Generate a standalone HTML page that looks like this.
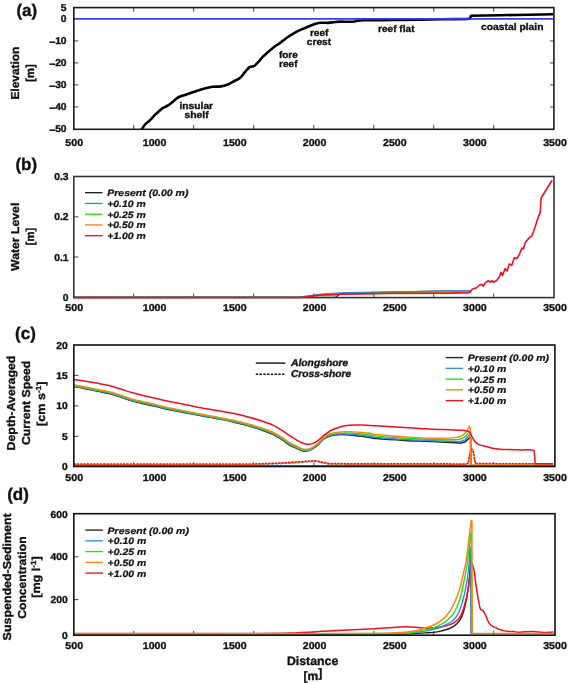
<!DOCTYPE html>
<html><head><meta charset="utf-8"><style>
html,body{margin:0;padding:0;background:#fff;}
body{width:568px;height:683px;overflow:hidden;}
svg{display:block;will-change:transform;text-rendering:geometricPrecision;}
text{font-family:"Liberation Sans", sans-serif;fill:#111;}
</style></head><body>
<svg width="568" height="683" viewBox="0 0 568 683">
<rect width="568" height="683" fill="#fff"/>
<line x1="133.6" y1="129.3" x2="133.6" y2="125.10000000000001" stroke="#555" stroke-width="1.1"/>
<line x1="133.6" y1="7.6" x2="133.6" y2="11.8" stroke="#555" stroke-width="1.1"/>
<line x1="193.6" y1="129.3" x2="193.6" y2="125.10000000000001" stroke="#555" stroke-width="1.1"/>
<line x1="193.6" y1="7.6" x2="193.6" y2="11.8" stroke="#555" stroke-width="1.1"/>
<line x1="253.6" y1="129.3" x2="253.6" y2="125.10000000000001" stroke="#555" stroke-width="1.1"/>
<line x1="253.6" y1="7.6" x2="253.6" y2="11.8" stroke="#555" stroke-width="1.1"/>
<line x1="313.8" y1="129.3" x2="313.8" y2="125.10000000000001" stroke="#555" stroke-width="1.1"/>
<line x1="313.8" y1="7.6" x2="313.8" y2="11.8" stroke="#555" stroke-width="1.1"/>
<line x1="373.8" y1="129.3" x2="373.8" y2="125.10000000000001" stroke="#555" stroke-width="1.1"/>
<line x1="373.8" y1="7.6" x2="373.8" y2="11.8" stroke="#555" stroke-width="1.1"/>
<line x1="433.7" y1="129.3" x2="433.7" y2="125.10000000000001" stroke="#555" stroke-width="1.1"/>
<line x1="433.7" y1="7.6" x2="433.7" y2="11.8" stroke="#555" stroke-width="1.1"/>
<line x1="493.6" y1="129.3" x2="493.6" y2="125.10000000000001" stroke="#555" stroke-width="1.1"/>
<line x1="493.6" y1="7.6" x2="493.6" y2="11.8" stroke="#555" stroke-width="1.1"/>
<line x1="73.8" y1="40.9" x2="78.39999999999999" y2="40.9" stroke="#555" stroke-width="1.1"/>
<line x1="554.2" y1="40.9" x2="550.0" y2="40.9" stroke="#555" stroke-width="1.1"/>
<line x1="73.8" y1="62.9" x2="78.39999999999999" y2="62.9" stroke="#555" stroke-width="1.1"/>
<line x1="554.2" y1="62.9" x2="550.0" y2="62.9" stroke="#555" stroke-width="1.1"/>
<line x1="73.8" y1="84.9" x2="78.39999999999999" y2="84.9" stroke="#555" stroke-width="1.1"/>
<line x1="554.2" y1="84.9" x2="550.0" y2="84.9" stroke="#555" stroke-width="1.1"/>
<line x1="73.8" y1="106.9" x2="78.39999999999999" y2="106.9" stroke="#555" stroke-width="1.1"/>
<line x1="554.2" y1="106.9" x2="550.0" y2="106.9" stroke="#555" stroke-width="1.1"/>
<text transform="translate(66.6,10.5) scale(1.03,1)" font-size="10.0" font-weight="bold" font-style="normal" text-anchor="end" stroke="#111" stroke-width="0.35" >5</text>
<text transform="translate(66.6,22.4) scale(1.03,1)" font-size="10.0" font-weight="bold" font-style="normal" text-anchor="end" stroke="#111" stroke-width="0.35" >0</text>
<text transform="translate(66.6,44.4) scale(1.03,1)" font-size="10.0" font-weight="bold" font-style="normal" text-anchor="end" stroke="#111" stroke-width="0.35" ><tspan dy="0.9" stroke-width="0.6">–</tspan><tspan dy="-0.9">10</tspan></text>
<text transform="translate(66.6,66.4) scale(1.03,1)" font-size="10.0" font-weight="bold" font-style="normal" text-anchor="end" stroke="#111" stroke-width="0.35" ><tspan dy="0.9" stroke-width="0.6">–</tspan><tspan dy="-0.9">20</tspan></text>
<text transform="translate(66.6,88.4) scale(1.03,1)" font-size="10.0" font-weight="bold" font-style="normal" text-anchor="end" stroke="#111" stroke-width="0.35" ><tspan dy="0.9" stroke-width="0.6">–</tspan><tspan dy="-0.9">30</tspan></text>
<text transform="translate(66.6,110.4) scale(1.03,1)" font-size="10.0" font-weight="bold" font-style="normal" text-anchor="end" stroke="#111" stroke-width="0.35" ><tspan dy="0.9" stroke-width="0.6">–</tspan><tspan dy="-0.9">40</tspan></text>
<text transform="translate(66.6,132.4) scale(1.03,1)" font-size="10.0" font-weight="bold" font-style="normal" text-anchor="end" stroke="#111" stroke-width="0.35" ><tspan dy="0.9" stroke-width="0.6">–</tspan><tspan dy="-0.9">50</tspan></text>
<text transform="translate(74.2,146.2) scale(1.06,1)" font-size="10.0" font-weight="bold" font-style="normal" text-anchor="middle" stroke="#111" stroke-width="0.35" >500</text>
<text transform="translate(154.6,146.2) scale(1.06,1)" font-size="10.0" font-weight="bold" font-style="normal" text-anchor="middle" stroke="#111" stroke-width="0.35" >1000</text>
<text transform="translate(234.8,146.2) scale(1.06,1)" font-size="10.0" font-weight="bold" font-style="normal" text-anchor="middle" stroke="#111" stroke-width="0.35" >1500</text>
<text transform="translate(314.6,146.2) scale(1.06,1)" font-size="10.0" font-weight="bold" font-style="normal" text-anchor="middle" stroke="#111" stroke-width="0.35" >2000</text>
<text transform="translate(394.8,146.2) scale(1.06,1)" font-size="10.0" font-weight="bold" font-style="normal" text-anchor="middle" stroke="#111" stroke-width="0.35" >2500</text>
<text transform="translate(474.9,146.2) scale(1.06,1)" font-size="10.0" font-weight="bold" font-style="normal" text-anchor="middle" stroke="#111" stroke-width="0.35" >3000</text>
<text transform="translate(555.0,146.2) scale(1.06,1)" font-size="10.0" font-weight="bold" font-style="normal" text-anchor="middle" stroke="#111" stroke-width="0.35" >3500</text>
<path d="M141.60,129.60 C142.73,127.90 143.71,126.06 145.00,124.50 C145.71,123.63 146.74,123.04 147.60,122.30 C148.78,121.28 150.01,120.31 151.10,119.20 C152.34,117.94 153.35,116.45 154.60,115.20 C155.98,113.82 157.53,112.59 159.00,111.30 C160.19,110.26 161.29,109.07 162.60,108.20 C163.96,107.30 165.57,106.80 167.00,106.00 C168.20,105.33 169.41,104.63 170.50,103.80 C171.74,102.86 172.81,101.70 174.00,100.70 C175.31,99.60 176.51,98.29 178.00,97.50 C180.14,96.36 182.58,95.71 184.90,94.90 C187.71,93.91 190.57,93.05 193.40,92.10 C196.21,91.15 198.95,89.99 201.80,89.20 C205.28,88.23 208.83,87.32 212.40,86.80 C215.20,86.39 218.11,86.80 220.90,86.40 C223.04,86.10 225.18,85.48 227.20,84.70 C229.38,83.85 231.42,82.60 233.50,81.50 C235.65,80.37 238.07,79.54 239.90,78.00 C242.00,76.24 243.43,73.67 245.30,71.60 C246.69,70.07 248.01,68.28 249.70,67.20 C250.94,66.41 252.83,66.76 254.10,66.00 C255.77,65.00 257.12,63.35 258.50,61.90 C260.06,60.25 261.32,58.33 262.90,56.70 C264.56,54.99 266.40,53.46 268.20,51.90 C269.93,50.40 271.67,48.88 273.50,47.50 C275.77,45.78 278.20,44.28 280.50,42.60 C282.87,40.88 285.09,38.96 287.50,37.30 C289.79,35.72 292.17,34.26 294.60,32.90 C296.87,31.63 299.23,30.49 301.60,29.40 C303.93,28.32 306.32,27.36 308.70,26.40 C311.02,25.46 313.31,24.42 315.70,23.70 C317.41,23.18 319.22,22.82 321.00,22.70 C323.32,22.55 325.68,23.02 328.00,22.90 C330.34,22.78 332.66,22.25 335.00,22.00 C336.66,21.82 338.33,21.62 340.00,21.60 C344.00,21.55 348.01,21.88 352.00,21.80 C353.01,21.78 354.01,21.50 355.00,21.30 C356.01,21.10 356.98,20.72 358.00,20.60 C359.92,20.38 361.86,20.33 363.80,20.30 C370.13,20.20 376.47,20.27 382.80,20.20 C388.53,20.14 394.27,19.99 400.00,19.90 C414.00,19.69 428.00,19.51 442.00,19.30 C450.53,19.17 459.07,19.03 467.60,18.90 C468.40,18.80 469.20,18.70 470.00,18.60 C470.33,17.63 470.67,16.67 471.00,15.70 C480.67,15.53 490.33,15.37 500.00,15.20 C510.00,15.05 520.00,14.90 530.00,14.75 C537.73,14.57 545.47,14.38 553.20,14.20" fill="none" stroke="#000" stroke-width="2.6" stroke-linejoin="round" />
<line x1="74" y1="18.8" x2="553.5" y2="18.8" stroke="#3a3af0" stroke-width="1.8"/>
<text x="179.5" y="109.0" font-size="9.6" font-weight="bold" font-style="normal" text-anchor="start" textLength="33.6" lengthAdjust="spacingAndGlyphs" stroke="#111" stroke-width="0.35" >insular</text>
<text x="184.4" y="118.0" font-size="9.6" font-weight="bold" font-style="normal" text-anchor="start" textLength="24.3" lengthAdjust="spacingAndGlyphs" stroke="#111" stroke-width="0.35" >shelf</text>
<text x="279.0" y="58.0" font-size="9.6" font-weight="bold" font-style="normal" text-anchor="start" textLength="18.7" lengthAdjust="spacingAndGlyphs" stroke="#111" stroke-width="0.35" >fore</text>
<text x="279.0" y="67.4" font-size="9.6" font-weight="bold" font-style="normal" text-anchor="start" textLength="18.5" lengthAdjust="spacingAndGlyphs" stroke="#111" stroke-width="0.35" >reef</text>
<text x="309.9" y="36.0" font-size="9.6" font-weight="bold" font-style="normal" text-anchor="start" textLength="18.6" lengthAdjust="spacingAndGlyphs" stroke="#111" stroke-width="0.35" >reef</text>
<text x="306.8" y="45.3" font-size="9.6" font-weight="bold" font-style="normal" text-anchor="start" textLength="24.4" lengthAdjust="spacingAndGlyphs" stroke="#111" stroke-width="0.35" >crest</text>
<text x="378.0" y="32.4" font-size="9.6" font-weight="bold" font-style="normal" text-anchor="start" textLength="36.5" lengthAdjust="spacingAndGlyphs" stroke="#111" stroke-width="0.35" >reef flat</text>
<text x="481.0" y="30.4" font-size="9.6" font-weight="bold" font-style="normal" text-anchor="start" textLength="62.5" lengthAdjust="spacingAndGlyphs" stroke="#111" stroke-width="0.35" >coastal plain</text>
<rect x="73.8" y="7.6" width="480.09999999999997" height="121.70000000000002" fill="none" stroke="#1a1a1a" stroke-width="1.6"/>
<line x1="133.6" y1="297.6" x2="133.6" y2="293.40000000000003" stroke="#555" stroke-width="1.1"/>
<line x1="193.6" y1="297.6" x2="193.6" y2="293.40000000000003" stroke="#555" stroke-width="1.1"/>
<line x1="253.6" y1="297.6" x2="253.6" y2="293.40000000000003" stroke="#555" stroke-width="1.1"/>
<line x1="313.8" y1="297.6" x2="313.8" y2="293.40000000000003" stroke="#555" stroke-width="1.1"/>
<line x1="373.8" y1="297.6" x2="373.8" y2="293.40000000000003" stroke="#555" stroke-width="1.1"/>
<line x1="433.7" y1="297.6" x2="433.7" y2="293.40000000000003" stroke="#555" stroke-width="1.1"/>
<line x1="493.6" y1="297.6" x2="493.6" y2="293.40000000000003" stroke="#555" stroke-width="1.1"/>
<line x1="73.8" y1="216.8" x2="78.39999999999999" y2="216.8" stroke="#555" stroke-width="1.1"/>
<line x1="73.8" y1="257.0" x2="78.39999999999999" y2="257.0" stroke="#555" stroke-width="1.1"/>
<text transform="translate(68.5,180.3) scale(1.03,1)" font-size="10.0" font-weight="bold" font-style="normal" text-anchor="end" stroke="#111" stroke-width="0.35" >0.3</text>
<text transform="translate(68.5,220.3) scale(1.03,1)" font-size="10.0" font-weight="bold" font-style="normal" text-anchor="end" stroke="#111" stroke-width="0.35" >0.2</text>
<text transform="translate(68.5,260.5) scale(1.03,1)" font-size="10.0" font-weight="bold" font-style="normal" text-anchor="end" stroke="#111" stroke-width="0.35" >0.1</text>
<text transform="translate(68.5,300.9) scale(1.03,1)" font-size="10.0" font-weight="bold" font-style="normal" text-anchor="end" stroke="#111" stroke-width="0.35" >0</text>
<text transform="translate(74.2,311.2) scale(1.06,1)" font-size="10.0" font-weight="bold" font-style="normal" text-anchor="middle" stroke="#111" stroke-width="0.35" >500</text>
<text transform="translate(154.6,311.2) scale(1.06,1)" font-size="10.0" font-weight="bold" font-style="normal" text-anchor="middle" stroke="#111" stroke-width="0.35" >1000</text>
<text transform="translate(234.8,311.2) scale(1.06,1)" font-size="10.0" font-weight="bold" font-style="normal" text-anchor="middle" stroke="#111" stroke-width="0.35" >1500</text>
<text transform="translate(314.6,311.2) scale(1.06,1)" font-size="10.0" font-weight="bold" font-style="normal" text-anchor="middle" stroke="#111" stroke-width="0.35" >2000</text>
<text transform="translate(394.8,311.2) scale(1.06,1)" font-size="10.0" font-weight="bold" font-style="normal" text-anchor="middle" stroke="#111" stroke-width="0.35" >2500</text>
<text transform="translate(474.9,311.2) scale(1.06,1)" font-size="10.0" font-weight="bold" font-style="normal" text-anchor="middle" stroke="#111" stroke-width="0.35" >3000</text>
<text transform="translate(555.0,311.2) scale(1.06,1)" font-size="10.0" font-weight="bold" font-style="normal" text-anchor="middle" stroke="#111" stroke-width="0.35" >3500</text>
<polyline points="73.8,297.4 300.0,297.4 335.0,297.4 340.0,294.2 345.0,293.2 380.0,292.3 440.0,291.2 468.0,290.7 470.7,290.5" fill="none" stroke="#222" stroke-width="1.2" stroke-linejoin="round" stroke-linecap="butt" />
<polyline points="73.8,297.2 300.0,297.0 321.0,295.3 345.0,293.9 380.0,293.3 440.0,292.3 468.0,291.8 470.7,291.6" fill="none" stroke="#ff8212" stroke-width="1.3" stroke-linejoin="round" stroke-linecap="butt" />
<polyline points="73.8,297.2 300.0,297.0 321.0,294.6 345.0,293.2 380.0,292.6 440.0,291.6 468.0,291.1 470.7,290.9" fill="none" stroke="#22e010" stroke-width="1.2" stroke-linejoin="round" stroke-linecap="butt" />
<polyline points="73.8,297.2 300.0,297.0 321.0,294.0 345.0,292.6 380.0,292.0 440.0,291.0 468.0,290.5 470.7,290.3" fill="none" stroke="#3586f2" stroke-width="1.2" stroke-linejoin="round" stroke-linecap="butt" />
<rect x="73.8" y="176.5" width="480.2" height="121.10000000000002" fill="none" stroke="#333" stroke-width="1.6"/>
<polyline points="74.5,297.6 300.0,297.5 307.6,296.7 312.6,295.9 325.2,294.8 330.2,295.0 342.8,293.9 345.0,294.1 390.0,293.4 450.4,293.1 468.0,292.6 470.0,292.2 472.5,289.0 476.7,287.8 479.2,285.3 481.7,284.4 483.4,286.1 485.1,282.8 488.4,280.6 490.1,282.3 491.8,280.6 493.4,282.3 496.8,280.2 499.3,276.9 501.0,272.2 502.6,275.6 505.1,268.5 507.1,271.0 509.3,263.9 511.8,265.2 514.3,257.7 516.8,258.5 519.4,254.3 521.9,248.1 523.5,248.8 525.2,242.6 528.6,238.4 531.9,235.9 535.2,226.7 538.6,215.9 540.1,213.2 541.2,197.8 552.2,180.3" fill="none" stroke="#f01020" stroke-width="1.6" stroke-linejoin="round" stroke-linecap="butt" />
<line x1="85.0" y1="192.7" x2="102.5" y2="192.7" stroke="#222" stroke-width="1.35"/>
<text x="107.2" y="196.2" font-size="9.3" font-weight="bold" font-style="italic" text-anchor="start" textLength="81.3" lengthAdjust="spacingAndGlyphs" stroke="#111" stroke-width="0.22" >Present (0.00 m)</text>
<line x1="85.0" y1="203.45" x2="102.5" y2="203.45" stroke="#3586f2" stroke-width="1.35"/>
<text x="107.2" y="206.95" font-size="9.3" font-weight="bold" font-style="italic" text-anchor="start" textLength="38.6" lengthAdjust="spacingAndGlyphs" stroke="#111" stroke-width="0.22" >+0.10 m</text>
<line x1="85.0" y1="214.2" x2="102.5" y2="214.2" stroke="#22e010" stroke-width="1.35"/>
<text x="107.2" y="217.7" font-size="9.3" font-weight="bold" font-style="italic" text-anchor="start" textLength="38.6" lengthAdjust="spacingAndGlyphs" stroke="#111" stroke-width="0.22" >+0.25 m</text>
<line x1="85.0" y1="224.95" x2="102.5" y2="224.95" stroke="#ff8212" stroke-width="1.35"/>
<text x="107.2" y="228.45" font-size="9.3" font-weight="bold" font-style="italic" text-anchor="start" textLength="38.6" lengthAdjust="spacingAndGlyphs" stroke="#111" stroke-width="0.22" >+0.50 m</text>
<line x1="85.0" y1="235.7" x2="102.5" y2="235.7" stroke="#f01020" stroke-width="1.35"/>
<text x="107.2" y="239.2" font-size="9.3" font-weight="bold" font-style="italic" text-anchor="start" textLength="38.6" lengthAdjust="spacingAndGlyphs" stroke="#111" stroke-width="0.22" >+1.00 m</text>
<line x1="133.6" y1="466.5" x2="133.6" y2="462.3" stroke="#555" stroke-width="1.1"/>
<line x1="193.6" y1="466.5" x2="193.6" y2="462.3" stroke="#555" stroke-width="1.1"/>
<line x1="253.6" y1="466.5" x2="253.6" y2="462.3" stroke="#555" stroke-width="1.1"/>
<line x1="313.8" y1="466.5" x2="313.8" y2="462.3" stroke="#555" stroke-width="1.1"/>
<line x1="373.8" y1="466.5" x2="373.8" y2="462.3" stroke="#555" stroke-width="1.1"/>
<line x1="433.7" y1="466.5" x2="433.7" y2="462.3" stroke="#555" stroke-width="1.1"/>
<line x1="493.6" y1="466.5" x2="493.6" y2="462.3" stroke="#555" stroke-width="1.1"/>
<line x1="73.8" y1="375.4" x2="78.39999999999999" y2="375.4" stroke="#555" stroke-width="1.1"/>
<line x1="73.8" y1="405.9" x2="78.39999999999999" y2="405.9" stroke="#555" stroke-width="1.1"/>
<line x1="73.8" y1="436.4" x2="78.39999999999999" y2="436.4" stroke="#555" stroke-width="1.1"/>
<text transform="translate(67.8,348.8) scale(1.03,1)" font-size="10.0" font-weight="bold" font-style="normal" text-anchor="end" stroke="#111" stroke-width="0.35" >20</text>
<text transform="translate(67.8,378.9) scale(1.03,1)" font-size="10.0" font-weight="bold" font-style="normal" text-anchor="end" stroke="#111" stroke-width="0.35" >15</text>
<text transform="translate(67.8,409.4) scale(1.03,1)" font-size="10.0" font-weight="bold" font-style="normal" text-anchor="end" stroke="#111" stroke-width="0.35" >10</text>
<text transform="translate(67.8,439.9) scale(1.03,1)" font-size="10.0" font-weight="bold" font-style="normal" text-anchor="end" stroke="#111" stroke-width="0.35" >5</text>
<text transform="translate(67.8,469.7) scale(1.03,1)" font-size="10.0" font-weight="bold" font-style="normal" text-anchor="end" stroke="#111" stroke-width="0.35" >0</text>
<text transform="translate(74.2,481.0) scale(1.06,1)" font-size="10.0" font-weight="bold" font-style="normal" text-anchor="middle" stroke="#111" stroke-width="0.35" >500</text>
<text transform="translate(154.6,481.0) scale(1.06,1)" font-size="10.0" font-weight="bold" font-style="normal" text-anchor="middle" stroke="#111" stroke-width="0.35" >1000</text>
<text transform="translate(234.8,481.0) scale(1.06,1)" font-size="10.0" font-weight="bold" font-style="normal" text-anchor="middle" stroke="#111" stroke-width="0.35" >1500</text>
<text transform="translate(314.6,481.0) scale(1.06,1)" font-size="10.0" font-weight="bold" font-style="normal" text-anchor="middle" stroke="#111" stroke-width="0.35" >2000</text>
<text transform="translate(394.8,481.0) scale(1.06,1)" font-size="10.0" font-weight="bold" font-style="normal" text-anchor="middle" stroke="#111" stroke-width="0.35" >2500</text>
<text transform="translate(474.9,481.0) scale(1.06,1)" font-size="10.0" font-weight="bold" font-style="normal" text-anchor="middle" stroke="#111" stroke-width="0.35" >3000</text>
<text transform="translate(555.0,481.0) scale(1.06,1)" font-size="10.0" font-weight="bold" font-style="normal" text-anchor="middle" stroke="#111" stroke-width="0.35" >3500</text>
<polyline points="73.5,465.0 250.0,465.0 278.2,464.0 292.3,463.1 306.3,462.2 314.8,461.5 320.4,462.6 328.9,464.3 350.0,464.6 466.0,464.8 468.0,465.0 553.0,465.0" fill="none" stroke="#3586f2" stroke-width="1.1" stroke-linejoin="round" stroke-linecap="butt" stroke-dasharray="2.5,1.8"/>
<polyline points="73.5,464.5 250.0,464.5 278.2,463.5 292.3,462.6 306.3,461.7 314.8,461.0 320.4,462.1 328.9,463.8 350.0,464.1 466.0,464.3 468.0,463.5 470.5,452.0 471.7,450.0 473.0,452.0 475.4,464.0 553.0,464.2" fill="none" stroke="#ff8212" stroke-width="1.2" stroke-linejoin="round" stroke-linecap="butt" />
<polyline points="73.5,464.1 250.0,464.1 278.2,463.1 292.3,462.2 306.3,461.3 314.8,460.6 320.4,461.7 328.9,463.4 350.0,463.7 466.0,463.9 468.0,463.3 470.3,451.0 471.7,448.8 473.3,451.0 475.4,463.6 553.0,463.7" fill="none" stroke="#f01020" stroke-width="1.5" stroke-linejoin="round" stroke-linecap="butt" stroke-dasharray="2.3,1.0"/>
<path d="M73.80,386.50 C77.30,387.15 80.81,387.77 84.30,388.46 C88.41,389.28 92.50,390.19 96.60,391.03 C100.73,391.88 104.92,392.47 109.00,393.51 C113.15,394.56 117.21,395.98 121.30,397.28 C125.41,398.59 129.46,400.13 133.60,401.35 C136.36,402.17 139.19,402.76 142.00,403.40 C146.02,404.32 150.08,405.10 154.10,406.02 C158.81,407.11 163.48,408.41 168.20,409.43 C172.88,410.45 177.60,411.24 182.30,412.14 C186.97,413.04 191.63,413.98 196.30,414.85 C200.99,415.72 205.70,416.52 210.40,417.36 C213.60,417.94 216.81,418.46 220.00,419.10 C224.71,420.05 229.42,421.04 234.10,422.15 C238.82,423.27 243.53,424.47 248.20,425.80 C252.93,427.15 257.66,428.56 262.30,430.17 C266.09,431.49 269.89,432.87 273.50,434.61 C276.46,436.03 279.24,437.86 282.00,439.66 C284.87,441.53 287.48,443.82 290.40,445.60 C292.02,446.58 293.87,447.15 295.60,447.94 C297.51,448.82 299.33,449.96 301.30,450.61 C302.63,451.04 304.12,451.31 305.50,451.18 C307.39,451.00 309.41,450.56 311.10,449.69 C313.64,448.40 316.00,446.55 318.20,444.69 C320.24,442.96 321.65,440.44 323.80,438.90 C325.85,437.44 328.36,436.41 330.80,435.68 C333.06,435.01 335.52,434.85 337.90,434.71 C340.69,434.53 343.50,434.60 346.30,434.71 C349.14,434.83 351.97,435.11 354.80,435.40 C357.61,435.70 360.40,436.10 363.20,436.49 C365.47,436.80 367.74,437.14 370.00,437.50 C372.10,437.84 374.18,438.41 376.30,438.59 C385.68,439.38 395.09,439.90 404.50,440.39 C413.89,440.89 423.30,441.11 432.70,441.56 C440.40,441.92 448.10,442.44 455.80,442.83 C457.53,442.92 459.27,442.94 461.00,443.00 C462.33,442.67 463.67,442.33 465.00,442.00 C466.17,440.93 467.33,439.87 468.50,438.80 C469.20,438.20 469.90,437.60 470.60,437.00 C470.70,446.40 470.80,455.80 470.90,465.20" fill="none" stroke="#222" stroke-width="1.5" stroke-linejoin="round" />
<path d="M73.80,386.10 C77.30,386.75 80.81,387.36 84.30,388.05 C88.41,388.86 92.50,389.77 96.60,390.60 C100.73,391.44 104.92,392.03 109.00,393.05 C113.15,394.10 117.21,395.51 121.30,396.81 C125.41,398.11 129.46,399.65 133.60,400.86 C136.36,401.68 139.19,402.26 142.00,402.90 C146.02,403.82 150.08,404.61 154.10,405.54 C158.81,406.63 163.48,407.94 168.20,408.97 C172.88,410.00 177.60,410.79 182.30,411.71 C186.97,412.61 191.63,413.56 196.30,414.44 C200.99,415.32 205.70,416.12 210.40,416.97 C213.60,417.55 216.81,418.08 220.00,418.73 C224.71,419.67 229.42,420.64 234.10,421.74 C238.82,422.85 243.53,424.04 248.20,425.35 C252.93,426.68 257.66,428.08 262.30,429.68 C266.09,430.99 269.89,432.36 273.50,434.08 C276.46,435.50 279.24,437.31 282.00,439.09 C284.87,440.95 287.49,443.23 290.40,445.00 C292.02,445.98 293.87,446.55 295.60,447.36 C297.51,448.25 299.33,449.40 301.30,450.08 C302.63,450.53 304.12,450.87 305.50,450.76 C307.38,450.61 309.41,450.15 311.10,449.30 C313.64,448.01 316.00,446.17 318.20,444.32 C320.24,442.59 321.66,440.10 323.80,438.55 C325.86,437.06 328.36,435.96 330.80,435.19 C333.06,434.47 335.52,434.27 337.90,434.08 C340.68,433.85 343.50,433.86 346.30,433.94 C349.14,434.01 351.97,434.26 354.80,434.53 C357.61,434.79 360.40,435.16 363.20,435.52 C365.47,435.80 367.74,436.10 370.00,436.45 C372.11,436.78 374.18,437.38 376.30,437.57 C385.68,438.39 395.09,438.97 404.50,439.50 C413.89,440.02 423.30,440.35 432.70,440.72 C440.40,441.02 448.10,441.31 455.80,441.52 C457.53,441.57 459.27,441.51 461.00,441.50 C462.33,441.00 463.67,440.50 465.00,440.00 C466.07,438.70 467.13,437.40 468.20,436.10 C468.97,435.57 469.73,435.03 470.50,434.50 C470.60,444.73 470.70,454.97 470.80,465.20" fill="none" stroke="#3586f2" stroke-width="1.4" stroke-linejoin="round" />
<path d="M73.80,385.54 C77.30,386.18 80.81,386.78 84.30,387.46 C88.41,388.27 92.50,389.17 96.60,389.99 C100.73,390.82 104.92,391.40 109.00,392.42 C113.15,393.46 117.21,394.86 121.30,396.15 C125.41,397.45 129.46,398.97 133.60,400.18 C136.36,400.99 139.19,401.56 142.00,402.20 C146.03,403.12 150.08,403.93 154.10,404.87 C158.81,405.97 163.48,407.29 168.20,408.33 C172.88,409.37 177.60,410.17 182.30,411.10 C186.97,412.01 191.63,412.97 196.30,413.86 C200.99,414.75 205.70,415.56 210.40,416.42 C213.60,417.01 216.81,417.56 220.00,418.20 C224.71,419.14 229.42,420.08 234.10,421.16 C238.82,422.25 243.53,423.42 248.20,424.72 C252.93,426.03 257.66,427.41 262.30,428.99 C266.09,430.28 269.89,431.64 273.50,433.34 C276.46,434.74 279.24,436.54 282.00,438.30 C284.87,440.14 287.49,442.40 290.40,444.16 C292.02,445.14 293.88,445.72 295.60,446.54 C297.51,447.45 299.33,448.62 301.30,449.34 C302.63,449.83 304.11,450.26 305.50,450.17 C307.38,450.06 309.40,449.59 311.10,448.74 C313.64,447.46 316.00,445.64 318.20,443.79 C320.24,442.08 321.68,439.63 323.80,438.06 C325.88,436.53 328.35,435.34 330.80,434.49 C333.05,433.72 335.51,433.46 337.90,433.20 C340.68,432.91 343.50,432.83 346.30,432.85 C349.13,432.86 351.97,433.08 354.80,433.30 C357.61,433.52 360.40,433.85 363.20,434.16 C365.47,434.41 367.74,434.64 370.00,434.98 C372.11,435.30 374.18,435.93 376.30,436.14 C385.68,437.02 395.09,437.67 404.50,438.24 C413.89,438.81 423.30,439.28 432.70,439.54 C440.40,439.76 448.12,439.89 455.80,439.69 C457.59,439.65 459.33,439.10 461.10,438.80 C462.40,438.20 463.70,437.60 465.00,437.00 C466.00,435.83 467.00,434.67 468.00,433.50 C468.80,432.83 469.60,432.17 470.40,431.50 C470.50,442.73 470.60,453.97 470.70,465.20" fill="none" stroke="#22e010" stroke-width="1.4" stroke-linejoin="round" />
<path d="M73.80,384.90 C77.30,385.53 80.81,386.13 84.30,386.80 C88.41,387.59 92.50,388.49 96.60,389.30 C100.73,390.12 104.92,390.69 109.00,391.70 C113.15,392.73 117.21,394.12 121.30,395.40 C125.41,396.69 129.46,398.20 133.60,399.40 C136.36,400.20 139.19,400.76 142.00,401.40 C146.03,402.32 150.08,403.15 154.10,404.10 C158.81,405.22 163.48,406.54 168.20,407.60 C172.88,408.64 177.60,409.46 182.30,410.40 C186.97,411.33 191.63,412.30 196.30,413.20 C200.99,414.10 205.70,414.93 210.40,415.80 C213.60,416.39 216.81,416.97 220.00,417.60 C224.71,418.53 229.42,419.44 234.10,420.50 C238.82,421.57 243.53,422.72 248.20,424.00 C252.93,425.29 257.65,426.64 262.30,428.20 C266.09,429.47 269.89,430.81 273.50,432.50 C276.45,433.88 279.24,435.65 282.00,437.40 C284.87,439.22 287.50,441.45 290.40,443.20 C292.03,444.18 293.88,444.77 295.60,445.60 C297.52,446.53 299.33,447.72 301.30,448.50 C302.63,449.02 304.10,449.56 305.50,449.50 C307.37,449.42 309.40,448.94 311.10,448.10 C313.64,446.84 316.00,445.03 318.20,443.20 C320.24,441.50 321.70,439.09 323.80,437.50 C325.90,435.92 328.34,434.62 330.80,433.70 C333.04,432.86 335.51,432.52 337.90,432.20 C340.68,431.82 343.50,431.65 346.30,431.60 C349.13,431.55 351.97,431.73 354.80,431.90 C357.60,432.07 360.40,432.34 363.20,432.60 C365.47,432.81 367.75,432.97 370.00,433.30 C372.11,433.61 374.17,434.28 376.30,434.50 C385.67,435.45 395.09,436.18 404.50,436.80 C413.89,437.42 423.30,438.05 432.70,438.20 C440.40,438.32 448.16,438.22 455.80,437.60 C458.00,437.42 460.07,436.40 462.20,435.80 C463.60,434.50 465.00,433.20 466.40,431.90 C467.47,429.97 468.53,428.03 469.60,426.10 C469.87,427.33 470.13,428.57 470.40,429.80 C470.53,441.53 470.67,453.27 470.80,465.00 C498.20,465.00 525.60,465.00 553.00,465.00" fill="none" stroke="#ff8212" stroke-width="1.4" stroke-linejoin="round" />
<line x1="73.5" y1="465.5" x2="554" y2="465.5" stroke="#2a8a8a" stroke-width="1.1"/>
<path d="M73.80,379.40 C77.30,379.90 80.81,380.33 84.30,380.90 C88.41,381.57 92.51,382.32 96.60,383.10 C100.74,383.89 104.91,384.57 109.00,385.60 C113.15,386.64 117.20,388.07 121.30,389.30 C125.40,390.53 129.48,391.83 133.60,393.00 C136.38,393.79 139.19,394.51 142.00,395.20 C146.02,396.18 150.07,397.06 154.10,398.00 C158.80,399.09 163.48,400.28 168.20,401.30 C172.88,402.31 177.60,403.16 182.30,404.10 C186.97,405.03 191.62,406.02 196.30,406.90 C200.99,407.78 205.70,408.59 210.40,409.40 C213.60,409.95 216.80,410.45 220.00,411.00 C224.70,411.81 229.43,412.51 234.10,413.50 C238.83,414.51 243.53,415.72 248.20,417.00 C252.93,418.29 257.65,419.66 262.30,421.20 C266.08,422.46 269.90,423.72 273.50,425.40 C276.47,426.79 279.23,428.63 282.00,430.40 C284.87,432.23 287.56,434.32 290.40,436.20 C292.10,437.32 293.84,438.38 295.60,439.40 C297.47,440.48 299.32,441.66 301.30,442.50 C303.09,443.26 305.00,444.01 306.90,444.20 C308.73,444.38 310.76,444.19 312.50,443.60 C314.52,442.92 316.45,441.67 318.20,440.40 C320.21,438.94 321.84,436.94 323.80,435.40 C326.04,433.64 328.32,431.86 330.80,430.50 C333.02,429.29 335.48,428.47 337.90,427.70 C340.65,426.83 343.46,426.07 346.30,425.60 C349.10,425.14 351.96,424.98 354.80,424.90 C357.60,424.82 360.40,424.97 363.20,425.10 C365.47,425.20 367.73,425.48 370.00,425.60 C372.10,425.71 374.20,425.68 376.30,425.80 C385.70,426.32 395.10,426.93 404.50,427.50 C413.90,428.07 423.30,428.73 432.70,429.20 C438.66,429.50 444.63,429.57 450.60,429.80 C454.10,429.94 457.61,430.03 461.10,430.30 C463.24,430.46 465.40,430.70 467.50,431.10 C468.23,431.24 468.90,431.63 469.60,431.90 C470.30,433.30 471.00,434.70 471.70,436.10 C472.77,437.87 473.57,439.87 474.90,441.40 C476.04,442.70 477.51,443.93 479.10,444.60 C481.71,445.70 484.72,445.95 487.50,446.70 C488.78,447.05 490.00,447.63 491.30,447.90 C494.17,448.50 497.08,449.01 500.00,449.30 C502.72,449.57 505.47,449.53 508.20,449.60 C512.90,449.73 517.60,449.84 522.30,449.90 C525.57,449.94 528.91,449.60 532.10,449.90 C532.87,449.97 533.50,450.63 534.20,451.00 C534.53,455.23 534.87,459.47 535.20,463.70 C541.20,463.70 547.20,463.70 553.20,463.70" fill="none" stroke="#f01020" stroke-width="1.5" stroke-linejoin="round" />
<line x1="255.8" y1="363.1" x2="285.4" y2="363.1" stroke="#111" stroke-width="1.4"/>
<line x1="255.8" y1="374.3" x2="285.4" y2="374.3" stroke="#111" stroke-width="1.4" stroke-dasharray="2.4,1.35"/>
<text x="291.0" y="366.2" font-size="10" font-weight="bold" font-style="italic" text-anchor="start" textLength="57.3" lengthAdjust="spacingAndGlyphs" stroke="#111" stroke-width="0.35" >Alongshore</text>
<text x="291.0" y="377.1" font-size="10" font-weight="bold" font-style="italic" text-anchor="start" textLength="60.1" lengthAdjust="spacingAndGlyphs" stroke="#111" stroke-width="0.35" >Cross-shore</text>
<line x1="445.6" y1="357.6" x2="463.1" y2="357.6" stroke="#222" stroke-width="1.35"/>
<text x="467.8" y="361.1" font-size="9.3" font-weight="bold" font-style="italic" text-anchor="start" textLength="81.3" lengthAdjust="spacingAndGlyphs" stroke="#111" stroke-width="0.22" >Present (0.00 m)</text>
<line x1="445.6" y1="368.35" x2="463.1" y2="368.35" stroke="#3586f2" stroke-width="1.35"/>
<text x="467.8" y="371.85" font-size="9.3" font-weight="bold" font-style="italic" text-anchor="start" textLength="38.6" lengthAdjust="spacingAndGlyphs" stroke="#111" stroke-width="0.22" >+0.10 m</text>
<line x1="445.6" y1="379.1" x2="463.1" y2="379.1" stroke="#22e010" stroke-width="1.35"/>
<text x="467.8" y="382.6" font-size="9.3" font-weight="bold" font-style="italic" text-anchor="start" textLength="38.6" lengthAdjust="spacingAndGlyphs" stroke="#111" stroke-width="0.22" >+0.25 m</text>
<line x1="445.6" y1="389.85" x2="463.1" y2="389.85" stroke="#ff8212" stroke-width="1.35"/>
<text x="467.8" y="393.35" font-size="9.3" font-weight="bold" font-style="italic" text-anchor="start" textLength="38.6" lengthAdjust="spacingAndGlyphs" stroke="#111" stroke-width="0.22" >+0.50 m</text>
<line x1="445.6" y1="400.6" x2="463.1" y2="400.6" stroke="#f01020" stroke-width="1.35"/>
<text x="467.8" y="404.1" font-size="9.3" font-weight="bold" font-style="italic" text-anchor="start" textLength="38.6" lengthAdjust="spacingAndGlyphs" stroke="#111" stroke-width="0.22" >+1.00 m</text>
<rect x="73.8" y="345.0" width="481.09999999999997" height="121.5" fill="none" stroke="#111" stroke-width="1.6"/>
<line x1="133.6" y1="635.2" x2="133.6" y2="631.0" stroke="#555" stroke-width="1.1"/>
<line x1="193.6" y1="635.2" x2="193.6" y2="631.0" stroke="#555" stroke-width="1.1"/>
<line x1="253.6" y1="635.2" x2="253.6" y2="631.0" stroke="#555" stroke-width="1.1"/>
<line x1="313.8" y1="635.2" x2="313.8" y2="631.0" stroke="#555" stroke-width="1.1"/>
<line x1="373.8" y1="635.2" x2="373.8" y2="631.0" stroke="#555" stroke-width="1.1"/>
<line x1="433.7" y1="635.2" x2="433.7" y2="631.0" stroke="#555" stroke-width="1.1"/>
<line x1="493.6" y1="635.2" x2="493.6" y2="631.0" stroke="#555" stroke-width="1.1"/>
<line x1="73.8" y1="556.8" x2="78.39999999999999" y2="556.8" stroke="#555" stroke-width="1.1"/>
<line x1="73.8" y1="599.6" x2="78.39999999999999" y2="599.6" stroke="#555" stroke-width="1.1"/>
<text transform="translate(67.8,518.0) scale(1.03,1)" font-size="10.0" font-weight="bold" font-style="normal" text-anchor="end" stroke="#111" stroke-width="0.35" >600</text>
<text transform="translate(67.8,560.3) scale(1.03,1)" font-size="10.0" font-weight="bold" font-style="normal" text-anchor="end" stroke="#111" stroke-width="0.35" >400</text>
<text transform="translate(67.8,603.1) scale(1.03,1)" font-size="10.0" font-weight="bold" font-style="normal" text-anchor="end" stroke="#111" stroke-width="0.35" >200</text>
<text transform="translate(67.8,638.5) scale(1.03,1)" font-size="10.0" font-weight="bold" font-style="normal" text-anchor="end" stroke="#111" stroke-width="0.35" >0</text>
<text transform="translate(74.2,649.4) scale(1.06,1)" font-size="10.0" font-weight="bold" font-style="normal" text-anchor="middle" stroke="#111" stroke-width="0.35" >500</text>
<text transform="translate(154.6,649.4) scale(1.06,1)" font-size="10.0" font-weight="bold" font-style="normal" text-anchor="middle" stroke="#111" stroke-width="0.35" >1000</text>
<text transform="translate(234.8,649.4) scale(1.06,1)" font-size="10.0" font-weight="bold" font-style="normal" text-anchor="middle" stroke="#111" stroke-width="0.35" >1500</text>
<text transform="translate(314.6,649.4) scale(1.06,1)" font-size="10.0" font-weight="bold" font-style="normal" text-anchor="middle" stroke="#111" stroke-width="0.35" >2000</text>
<text transform="translate(394.8,649.4) scale(1.06,1)" font-size="10.0" font-weight="bold" font-style="normal" text-anchor="middle" stroke="#111" stroke-width="0.35" >2500</text>
<text transform="translate(474.9,649.4) scale(1.06,1)" font-size="10.0" font-weight="bold" font-style="normal" text-anchor="middle" stroke="#111" stroke-width="0.35" >3000</text>
<text transform="translate(555.0,649.4) scale(1.06,1)" font-size="10.0" font-weight="bold" font-style="normal" text-anchor="middle" stroke="#111" stroke-width="0.35" >3500</text>
<path d="M73.80,634.60 C182.53,634.47 291.28,634.73 400.00,634.20 C408.34,634.16 416.67,633.34 425.00,632.90 C427.93,632.74 430.89,632.73 433.80,632.40 C436.15,632.13 438.50,631.67 440.80,631.10 C443.77,630.37 446.83,629.74 449.60,628.50 C452.13,627.37 454.76,625.94 456.70,624.00 C458.89,621.81 460.75,618.97 462.00,616.10 C463.68,612.24 464.55,607.95 465.50,603.80 C466.55,599.25 467.31,594.62 468.00,590.00 C468.74,585.02 469.20,580.00 469.80,575.00 C470.03,569.00 470.27,563.00 470.50,557.00 C470.67,557.00 470.83,557.00 471.00,557.00 C471.07,582.67 471.13,608.33 471.20,634.00" fill="none" stroke="#222" stroke-width="1.4" stroke-linejoin="round" />
<path d="M73.80,633.60 C132.53,633.53 191.27,633.56 250.00,633.40 C263.33,633.36 276.68,633.42 290.00,633.00 C304.11,632.55 318.20,631.51 332.30,630.80 C344.87,630.17 357.44,629.68 370.00,629.00 C375.87,628.68 381.73,628.17 387.60,627.80 C393.46,627.43 399.33,626.90 405.20,626.80 C408.73,626.74 412.27,627.03 415.80,627.30 C418.87,627.53 421.93,628.14 425.00,628.30 C426.46,628.38 427.93,628.10 429.40,628.00 C432.33,627.80 435.29,627.78 438.20,627.40 C440.86,627.05 443.52,626.52 446.10,625.80 C448.52,625.12 451.07,624.47 453.20,623.20 C455.47,621.84 457.79,620.06 459.30,617.90 C461.29,615.06 462.46,611.52 463.70,608.20 C464.56,605.88 464.98,603.40 465.60,601.00 C466.11,599.00 466.66,597.01 467.10,595.00 C467.53,593.01 467.92,591.01 468.20,589.00 C468.72,585.35 469.01,581.66 469.50,578.00 C469.95,574.66 470.35,571.30 471.00,568.00 C471.29,566.53 471.87,565.13 472.30,563.70 C472.97,566.37 473.81,569.00 474.30,571.70 C474.85,574.73 474.98,577.84 475.40,580.90 C475.92,584.71 476.49,588.51 477.10,592.30 C477.65,595.74 478.20,599.19 478.90,602.60 C479.37,604.89 479.63,607.45 480.60,609.40 C480.96,610.12 482.31,610.00 482.90,610.60 C483.81,611.53 484.50,612.80 485.10,614.00 C485.83,615.47 486.24,617.09 486.90,618.60 C487.57,620.13 488.17,621.74 489.10,623.10 C489.87,624.21 490.93,625.18 492.00,626.00 C492.66,626.51 493.52,626.77 494.30,627.10 C494.85,627.33 495.46,627.43 496.00,627.70 C497.00,628.20 497.87,628.99 498.90,629.40 C499.97,629.82 501.17,629.93 502.30,630.20 C503.83,630.56 505.34,631.12 506.90,631.30 C509.17,631.56 511.52,631.29 513.80,631.50 C515.22,631.63 516.59,632.26 518.00,632.30 C520.32,632.36 522.66,631.92 525.00,631.80 C527.83,631.65 530.67,631.39 533.50,631.50 C536.81,631.63 540.09,632.42 543.40,632.50 C546.76,632.58 550.13,632.17 553.50,632.00" fill="none" stroke="#f01020" stroke-width="1.5" stroke-linejoin="round" />
<path d="M73.80,634.40 C182.53,634.27 291.32,635.02 400.00,634.00 C408.39,633.92 416.70,632.25 425.00,631.10 C427.96,630.69 430.92,630.09 433.80,629.30 C436.78,628.49 439.75,627.50 442.60,626.30 C445.32,625.16 448.14,624.01 450.50,622.30 C452.84,620.61 455.10,618.49 456.70,616.10 C458.64,613.19 459.91,609.73 461.10,606.40 C462.41,602.70 463.19,598.81 464.20,595.00 C464.49,593.91 464.79,592.81 465.00,591.70 C465.89,587.01 466.79,582.32 467.50,577.60 C468.13,573.42 468.64,569.21 469.00,565.00 C469.51,559.05 469.73,553.07 470.10,547.10 C470.40,547.40 470.70,547.70 471.00,548.00 C471.10,576.67 471.20,605.33 471.30,634.00" fill="none" stroke="#3586f2" stroke-width="1.4" stroke-linejoin="round" />
<path d="M73.80,634.20 C182.53,633.97 291.33,634.74 400.00,633.50 C408.40,633.40 416.70,631.50 425.00,630.20 C427.37,629.83 429.75,629.30 432.00,628.50 C434.75,627.53 437.43,626.27 440.00,624.90 C442.43,623.61 444.90,622.25 447.00,620.50 C449.30,618.58 451.47,616.34 453.20,613.90 C455.00,611.37 456.40,608.48 457.60,605.60 C459.03,602.18 460.09,598.58 461.10,595.00 C461.73,592.78 462.03,590.47 462.50,588.20 C463.47,583.50 464.50,578.81 465.40,574.10 C466.17,570.08 466.98,566.06 467.50,562.00 C468.72,552.43 469.57,542.80 470.60,533.20 C470.83,533.47 471.07,533.73 471.30,534.00 C471.40,567.33 471.50,600.67 471.60,634.00" fill="none" stroke="#22e010" stroke-width="1.4" stroke-linejoin="round" />
<path d="M73.80,634.00 C172.53,633.87 271.28,634.14 370.00,633.60 C381.68,633.54 393.37,633.02 405.00,632.20 C409.37,631.89 413.72,631.10 418.00,630.20 C420.39,629.70 422.67,628.73 425.00,628.00 C427.33,627.27 429.74,626.71 432.00,625.80 C434.14,624.94 436.26,623.94 438.20,622.70 C440.39,621.30 442.53,619.70 444.40,617.90 C446.33,616.04 448.09,613.92 449.60,611.70 C451.29,609.22 452.70,606.51 454.00,603.80 C455.37,600.95 456.48,597.96 457.60,595.00 C458.62,592.30 459.65,589.59 460.40,586.80 C461.52,582.62 462.25,578.33 463.20,574.10 C464.11,570.06 465.39,566.09 466.00,562.00 C468.06,548.19 469.47,534.27 471.20,520.40 C471.43,520.60 471.67,520.80 471.90,521.00 C472.03,558.50 472.17,596.00 472.30,633.50 C499.53,633.50 526.77,633.50 554.00,633.50" fill="none" stroke="#ff8212" stroke-width="1.5" stroke-linejoin="round" />
<line x1="85.4" y1="530.1" x2="102.9" y2="530.1" stroke="#222" stroke-width="1.35"/>
<text x="107.60000000000001" y="533.6" font-size="9.3" font-weight="bold" font-style="italic" text-anchor="start" textLength="81.3" lengthAdjust="spacingAndGlyphs" stroke="#111" stroke-width="0.22" >Present (0.00 m)</text>
<line x1="85.4" y1="540.85" x2="102.9" y2="540.85" stroke="#3586f2" stroke-width="1.35"/>
<text x="107.60000000000001" y="544.35" font-size="9.3" font-weight="bold" font-style="italic" text-anchor="start" textLength="38.6" lengthAdjust="spacingAndGlyphs" stroke="#111" stroke-width="0.22" >+0.10 m</text>
<line x1="85.4" y1="551.6" x2="102.9" y2="551.6" stroke="#22e010" stroke-width="1.35"/>
<text x="107.60000000000001" y="555.1" font-size="9.3" font-weight="bold" font-style="italic" text-anchor="start" textLength="38.6" lengthAdjust="spacingAndGlyphs" stroke="#111" stroke-width="0.22" >+0.25 m</text>
<line x1="85.4" y1="562.35" x2="102.9" y2="562.35" stroke="#ff8212" stroke-width="1.35"/>
<text x="107.60000000000001" y="565.85" font-size="9.3" font-weight="bold" font-style="italic" text-anchor="start" textLength="38.6" lengthAdjust="spacingAndGlyphs" stroke="#111" stroke-width="0.22" >+0.50 m</text>
<line x1="85.4" y1="573.1" x2="102.9" y2="573.1" stroke="#f01020" stroke-width="1.35"/>
<text x="107.60000000000001" y="576.6" font-size="9.3" font-weight="bold" font-style="italic" text-anchor="start" textLength="38.6" lengthAdjust="spacingAndGlyphs" stroke="#111" stroke-width="0.22" >+1.00 m</text>
<rect x="73.8" y="513.7" width="481.2" height="121.5" fill="none" stroke="#111" stroke-width="1.6"/>
<text x="16.4" y="15.8" font-size="17" font-weight="bold" font-style="normal" text-anchor="start" stroke="#111" stroke-width="0.35" >(a)</text>
<text x="15.4" y="170.3" font-size="17" font-weight="bold" font-style="normal" text-anchor="start" stroke="#111" stroke-width="0.35" >(b)</text>
<text x="15.1" y="339.3" font-size="17" font-weight="bold" font-style="normal" text-anchor="start" stroke="#111" stroke-width="0.35" >(c)</text>
<text x="7.2" y="499.8" font-size="17" font-weight="bold" font-style="normal" text-anchor="start" stroke="#111" stroke-width="0.35" >(d)</text>
<text transform="translate(19.1,73.1) rotate(-90)" x="0" y="0" font-size="11.5" font-weight="bold" text-anchor="middle" textLength="53.0" lengthAdjust="spacingAndGlyphs" stroke="#111" stroke-width="0.35">Elevation</text>
<text transform="translate(34.0,73.1) rotate(-90)" x="0" y="0" font-size="11.5" font-weight="bold" text-anchor="middle" textLength="17.4" lengthAdjust="spacingAndGlyphs" stroke="#111" stroke-width="0.35">[m]</text>
<text transform="translate(19.1,236.8) rotate(-90)" x="0" y="0" font-size="11.5" font-weight="bold" text-anchor="middle" textLength="68.2" lengthAdjust="spacingAndGlyphs" stroke="#111" stroke-width="0.35">Water Level</text>
<text transform="translate(34.0,236.5) rotate(-90)" x="0" y="0" font-size="11.5" font-weight="bold" text-anchor="middle" textLength="17.4" lengthAdjust="spacingAndGlyphs" stroke="#111" stroke-width="0.35">[m]</text>
<text transform="translate(15.2,403.0) rotate(-90)" x="0" y="0" font-size="11.5" font-weight="bold" text-anchor="middle" textLength="94.8" lengthAdjust="spacingAndGlyphs" stroke="#111" stroke-width="0.35">Depth-Averaged</text>
<text transform="translate(30.4,402.9) rotate(-90)" x="0" y="0" font-size="11.5" font-weight="bold" text-anchor="middle" textLength="84.3" lengthAdjust="spacingAndGlyphs" stroke="#111" stroke-width="0.35">Current Speed</text>
<text transform="translate(44.9,403.7) rotate(-90)" x="0" y="0" font-size="11.5" font-weight="bold" text-anchor="middle" textLength="44.4" lengthAdjust="spacingAndGlyphs" stroke="#111" stroke-width="0.35">[cm s<tspan font-size="7.5" dy="-4.2">-1</tspan><tspan dy="4.2">]</tspan></text>
<text transform="translate(10.5,576.9) rotate(-90)" x="0" y="0" font-size="11.5" font-weight="bold" text-anchor="middle" textLength="127.0" lengthAdjust="spacingAndGlyphs" stroke="#111" stroke-width="0.35">Suspended-Sediment</text>
<text transform="translate(25.5,577.6) rotate(-90)" x="0" y="0" font-size="11.5" font-weight="bold" text-anchor="middle" textLength="82.3" lengthAdjust="spacingAndGlyphs" stroke="#111" stroke-width="0.35">Concentration</text>
<text transform="translate(40.3,577.0) rotate(-90)" x="0" y="0" font-size="11.5" font-weight="bold" text-anchor="middle" textLength="41.5" lengthAdjust="spacingAndGlyphs" stroke="#111" stroke-width="0.35">[mg l<tspan font-size="7.5" dy="-4.2">-1</tspan><tspan dy="4.2">]</tspan></text>
<text x="312.6" y="664.6" font-size="12" font-weight="bold" font-style="normal" text-anchor="middle" textLength="51.4" lengthAdjust="spacingAndGlyphs" stroke="#111" stroke-width="0.35" >Distance</text>
<text x="303.6" y="679.8" font-size="12" font-weight="bold" font-style="normal" text-anchor="start" stroke="#111" stroke-width="0.35" >[m<tspan dy="-3">]</tspan></text>
</svg>
</body></html>
